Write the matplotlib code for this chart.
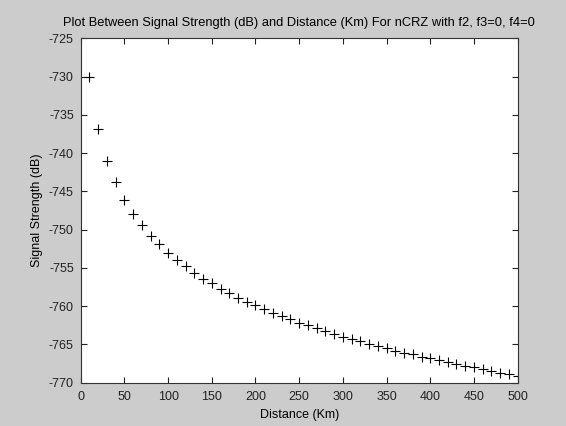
import matplotlib
matplotlib.use("Agg")
import matplotlib.pyplot as plt

distance_km = [10, 20, 30, 40, 50, 60, 70, 80, 90, 100,
               110, 120, 130, 140, 150, 160, 170, 180, 190, 200,
               210, 220, 230, 240, 250, 260, 270, 280, 290, 300,
               310, 320, 330, 340, 350, 360, 370, 380, 390, 400,
               410, 420, 430, 440, 450, 460, 470, 480, 490, 500]
signal_db = [-730.0, -736.9, -741.0, -743.8, -746.1, -747.9, -749.4, -750.8, -751.9, -753.0,
             -754.0, -754.8, -755.6, -756.4, -757.0, -757.7, -758.3, -758.9, -759.4, -759.9,
             -760.4, -760.9, -761.3, -761.7, -762.2, -762.5, -762.9, -763.3, -763.6, -764.0,
             -764.3, -764.6, -764.9, -765.2, -765.5, -765.8, -766.1, -766.3, -766.6, -766.8,
             -767.1, -767.3, -767.6, -767.8, -768.0, -768.2, -768.5, -768.7, -768.9, -769.1]
xticks = [0, 50, 100, 150, 200, 250, 300, 350, 400, 450, 500]
yticks = [-770, -765, -760, -755, -750, -745, -740, -735, -730, -725]

plt.rcParams['font.family'] = ['Liberation Sans', 'DejaVu Sans']
plt.rcParams['font.size'] = 9
plt.rcParams['axes.unicode_minus'] = False

fig = plt.figure(figsize=(5.66, 4.26), dpi=100, facecolor='#cccccc')
ax = fig.add_axes([0.1426, 0.1017, 0.772, 0.808])
ax.set_facecolor('white')
ax.plot(distance_km, signal_db, linestyle='none', marker='+', color='black',
        markersize=7, markeredgewidth=0.8)
ax.set_xlim(0, 500)
ax.set_ylim(-770, -725)
ax.set_xticks(xticks)
ax.set_yticks(yticks)
ax.tick_params(direction='in', top=True, right=True, length=4, width=0.8,
               colors='#222222', labelsize=9)
ax.tick_params(axis='x', pad=6)
ax.tick_params(axis='y', pad=5)
for s in ax.spines.values():
    s.set_color('#333333')
    s.set_linewidth(0.8)
ax.set_title('Plot Between Signal Strength (dB) and Distance (Km) For nCRZ with f2, f3=0, f4=0',
             fontsize=9.3, pad=9)
ax.set_xlabel('Distance (Km)', fontsize=9, labelpad=4)
ax.set_ylabel('Signal Strength (dB)', fontsize=9, labelpad=4)
fig.savefig('out.png', dpi=100, facecolor=fig.get_facecolor())
